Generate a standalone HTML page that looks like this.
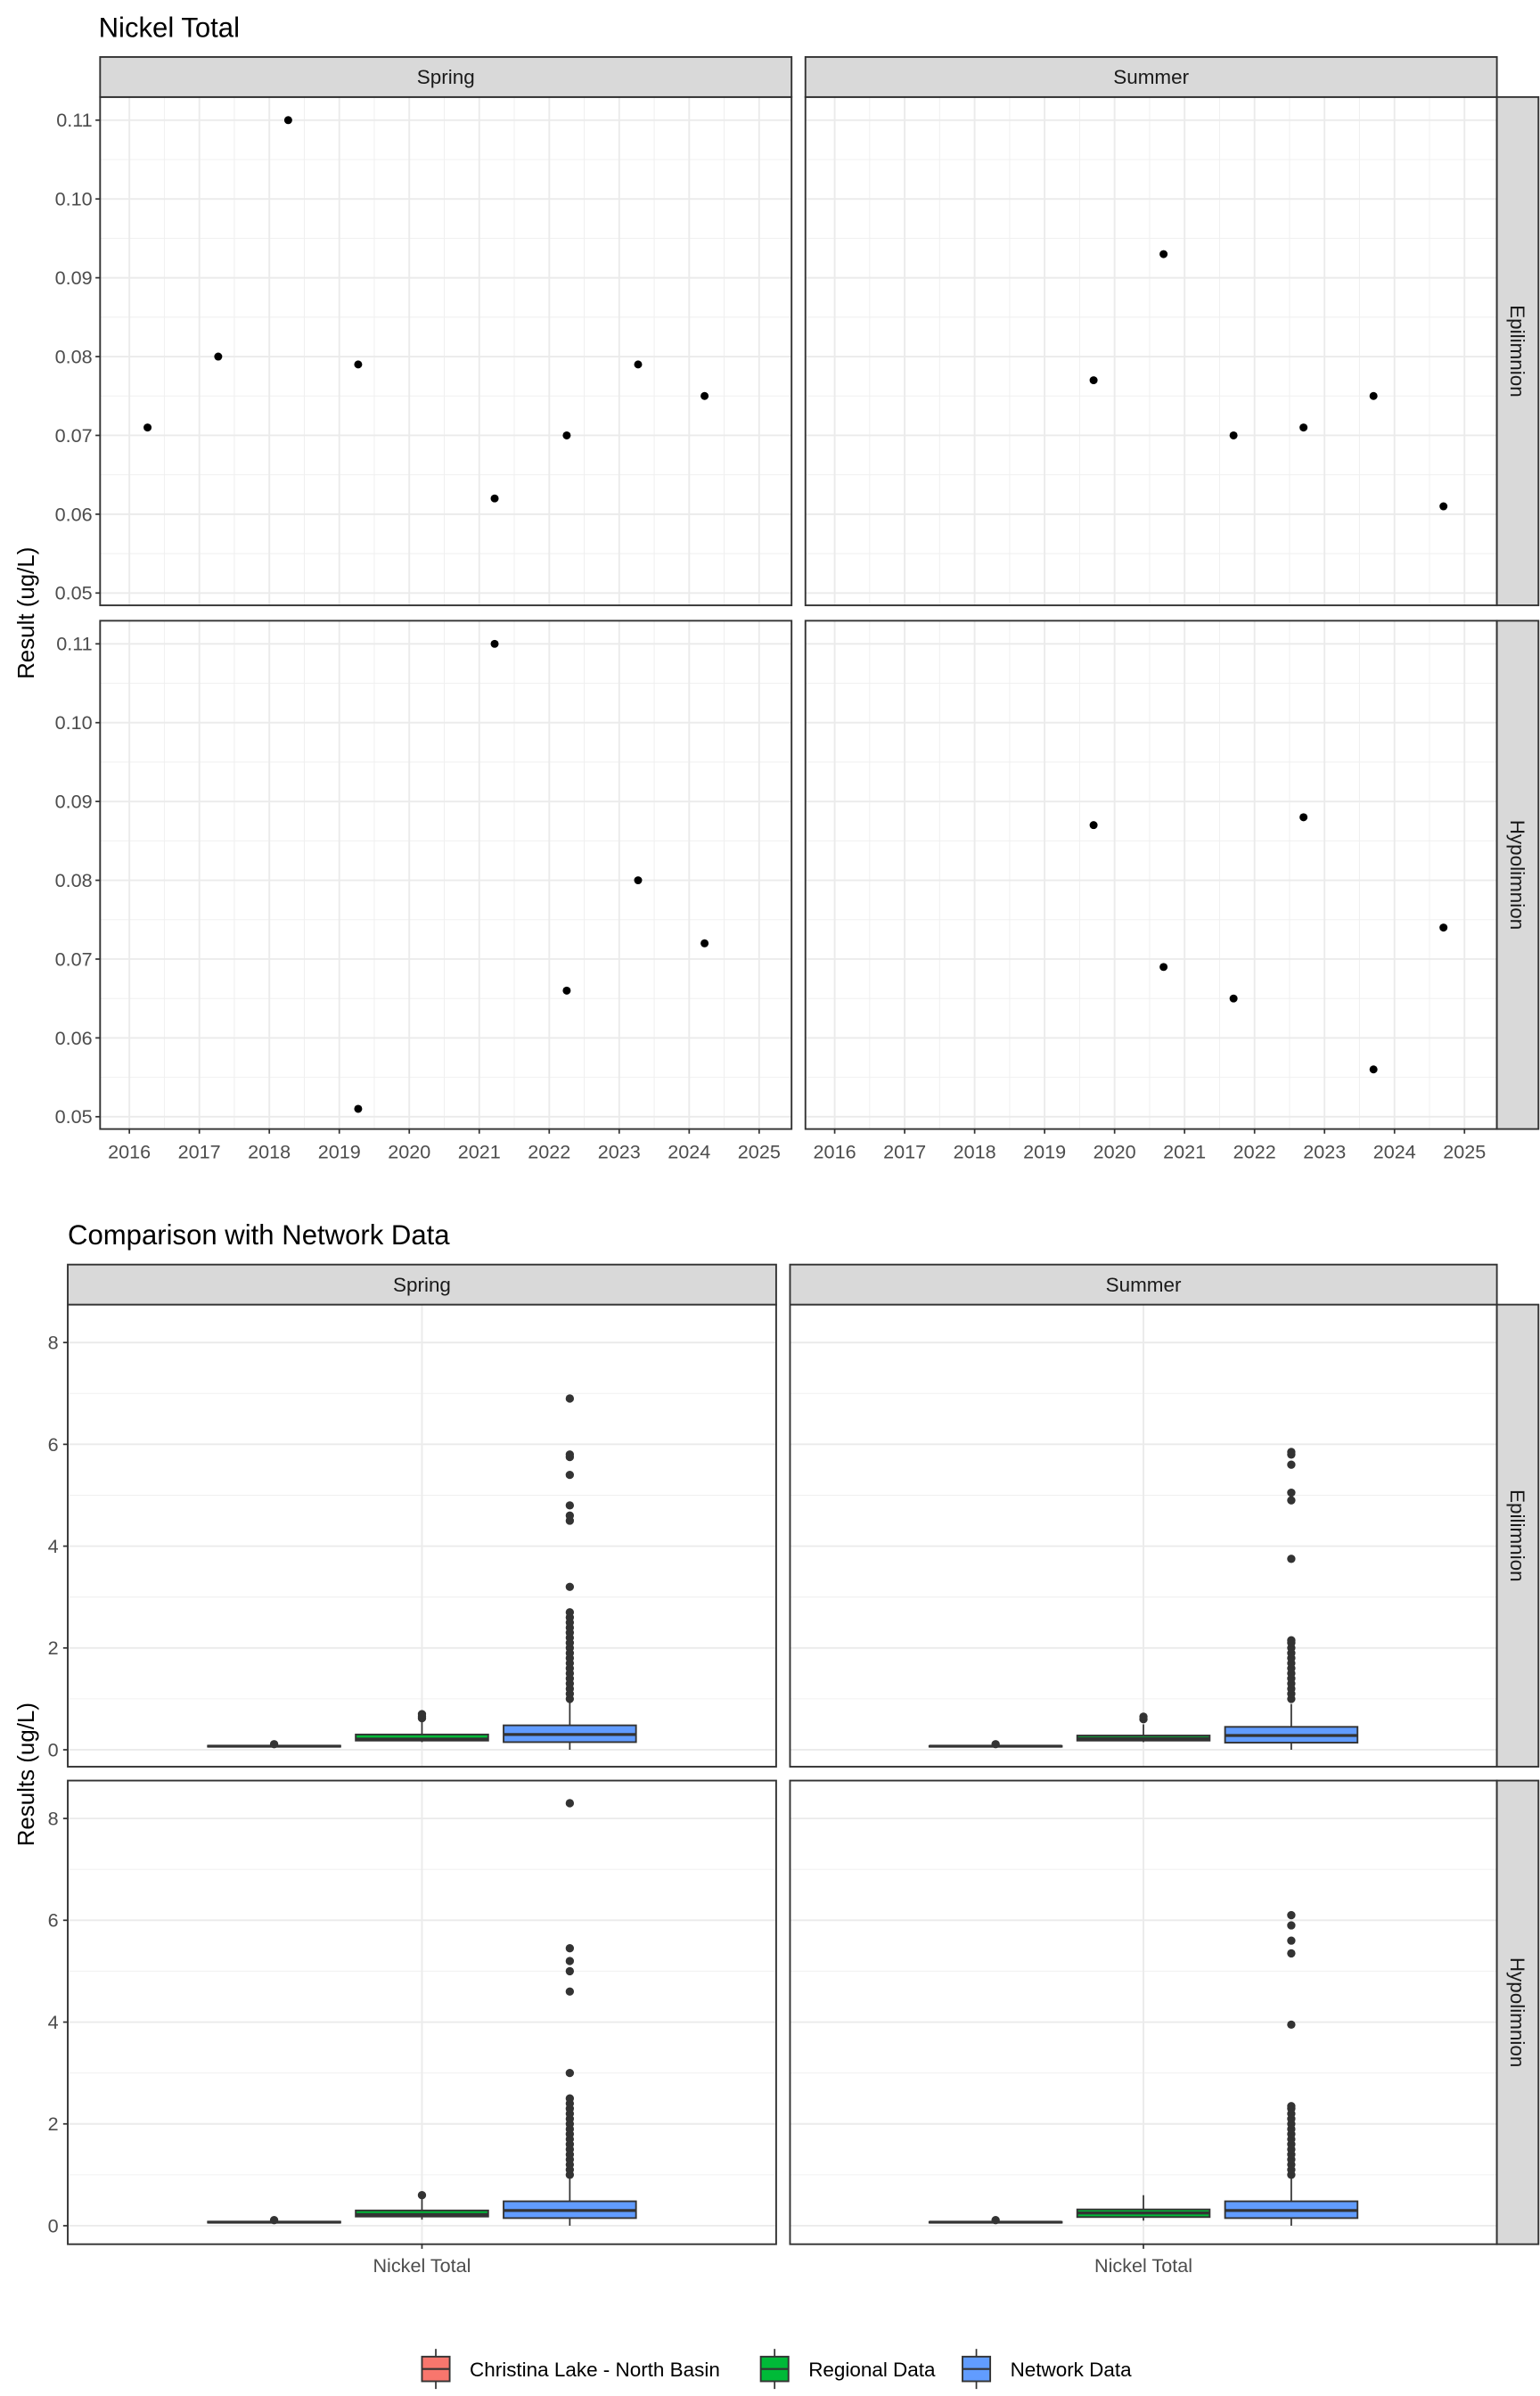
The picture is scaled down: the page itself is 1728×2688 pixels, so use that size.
<!DOCTYPE html>
<html><head><meta charset="utf-8"><style>
html,body{margin:0;padding:0;background:#fff}
svg{display:block;font-family:"Liberation Sans",Arial,sans-serif}
</style></head><body>
<svg id="chart" width="1728" height="2688" viewBox="0 0 1000 1555.55" xmlns="http://www.w3.org/2000/svg">
<rect width="1000" height="1555.55" fill="#fff"/>
<text x="64" y="24" font-size="18">Nickel Total</text>
<text x="44" y="808" font-size="18">Comparison with Network Data</text>
<text transform="translate(22,398) rotate(-90)" text-anchor="middle" font-size="15">Result (ug/L)</text>
<text transform="translate(22,1152) rotate(-90)" text-anchor="middle" font-size="15">Results (ug/L)</text>
<g id="g"></g>
</svg>
<script>
// ---- Top chart data ----
const seasons = ["Spring","Summer"];
const layers = ["Epilimnion","Hypolimnion"];
const yearTicks = [2016,2017,2018,2019,2020,2021,2022,2023,2024,2025];
const valueTicks = [0.05,0.06,0.07,0.08,0.09,0.10,0.11];
const springEpiYears = [2016.26,2017.27,2018.27,2019.27,2021.22,2022.25,2023.27,2024.22];
const springEpiValues = [0.071,0.080,0.110,0.079,0.062,0.070,0.079,0.075];
const summerEpiYears = [2019.7,2020.7,2021.7,2022.7,2023.7,2024.7];
const summerEpiValues = [0.077,0.093,0.070,0.071,0.075,0.061];
const springHypoYears = [2019.27,2021.22,2022.25,2023.27,2024.22];
const springHypoValues = [0.051,0.110,0.066,0.080,0.072];
const summerHypoYears = [2019.7,2020.7,2021.7,2022.7,2023.7,2024.7];
const summerHypoValues = [0.087,0.069,0.065,0.088,0.056,0.074];

// ---- Bottom chart data ----
const groups = ["Christina Lake - North Basin","Regional Data","Network Data"];
const resultTicks = [0,2,4,6,8];
// [lower whisker, q1, median, q3, upper whisker]
const springEpiStats = [[0.05,0.06,0.07,0.08,0.10],[0.15,0.18,0.21,0.30,0.55],[0.0,0.15,0.30,0.48,0.95]];
const summerEpiStats = [[0.05,0.06,0.07,0.075,0.09],[0.15,0.18,0.22,0.28,0.50],[0.0,0.14,0.28,0.45,0.90]];
const springHypoStats = [[0.05,0.06,0.07,0.08,0.10],[0.12,0.18,0.22,0.30,0.55],[0.0,0.15,0.30,0.48,0.98]];
const summerHypoStats = [[0.05,0.06,0.07,0.075,0.09],[0.10,0.17,0.25,0.32,0.60],[0.0,0.15,0.30,0.48,0.98]];
const springEpiOutliers = [[0.11],[0.62,0.66,0.70],[1.0,1.1,1.2,1.3,1.4,1.5,1.6,1.7,1.8,1.9,2.0,2.1,2.2,2.3,2.4,2.5,2.6,2.7,3.2,4.5,4.6,4.8,5.4,5.75,5.8,6.9]];
const summerEpiOutliers = [[0.11],[0.60,0.65],[1.0,1.1,1.2,1.3,1.4,1.5,1.6,1.7,1.8,1.9,2.0,2.1,2.15,3.75,4.9,5.05,5.6,5.8,5.85]];
const springHypoOutliers = [[0.11],[0.60],[1.0,1.1,1.2,1.3,1.4,1.5,1.6,1.7,1.8,1.9,2.0,2.1,2.2,2.3,2.4,2.5,3.0,4.6,5.0,5.2,5.45,8.3]];
const summerHypoOutliers = [[0.11],[],[1.0,1.1,1.2,1.3,1.4,1.5,1.6,1.7,1.8,1.9,2.0,2.1,2.2,2.3,2.35,3.95,5.35,5.6,5.9,6.1]];
const fills = ["#F8766D","#00BA38","#619CFF"];

const NS="http://www.w3.org/2000/svg";
const G=document.getElementById('g');
function el(tag,attrs,parent){const e=document.createElementNS(NS,tag);for(const k in attrs)e.setAttribute(k,attrs[k]);(parent||G).appendChild(e);return e;}

// ---------- TOP ----------
const topCols=[{x0:65,x1:514},{x0:523,x1:972}];
const topRows=[{y0:63,y1:393,top:78},{y0:403,y1:733,top:418}];
const yrPx=45.44;
function xYear(c,y){return topCols[c].x0+19+(y-2016)*yrPx;}
function yVal(r,v){return topRows[r].top+(0.11-v)*5116.7;}
const topSeries=[[[springEpiYears,springEpiValues],[summerEpiYears,summerEpiValues]],[[springHypoYears,springHypoValues],[summerHypoYears,summerHypoValues]]];
for(let r=0;r<2;r++)for(let c=0;c<2;c++){
  const C=topCols[c],R=topRows[r];
  const p=el('g',{});
  
  
  // minor grid
  for(let i=0;i<valueTicks.length-1;i++){const y=yVal(r,valueTicks[i]+0.005);el('line',{x1:C.x0,x2:C.x1,y1:y,y2:y,stroke:'#f0f0f0','stroke-width':0.6},p);}
  for(let i=0;i<yearTicks.length;i++){const x=xYear(c,yearTicks[i]-0.5);if(x>C.x0)el('line',{x1:x,x2:x,y1:R.y0,y2:R.y1,stroke:'#f0f0f0','stroke-width':0.6},p);}
  const xl=xYear(c,2025.5); if(xl<C.x1) el('line',{x1:xl,x2:xl,y1:R.y0,y2:R.y1,stroke:'#f0f0f0','stroke-width':0.6},p);
  // major grid
  valueTicks.forEach(v=>{const y=yVal(r,v);el('line',{x1:C.x0,x2:C.x1,y1:y,y2:y,stroke:'#ebebeb','stroke-width':1.1},p);});
  yearTicks.forEach(v=>{const x=xYear(c,v);el('line',{x1:x,x2:x,y1:R.y0,y2:R.y1,stroke:'#ebebeb','stroke-width':1.1},p);});
  // points
  const [xs,vs]=topSeries[r][c];
  xs.forEach((x,i)=>{const d=el('circle',{cx:xYear(c,x),cy:yVal(r,vs[i]),r:2.6,fill:'#000'},p);
    
    });
  el('rect',{x:C.x0,y:R.y0,width:C.x1-C.x0,height:R.y1-R.y0,fill:'none',stroke:'#333','stroke-width':1.1},p);
  if(c===0){valueTicks.forEach(v=>{const y=yVal(r,v);el('line',{x1:C.x0-3,x2:C.x0,y1:y,y2:y,stroke:'#333'},p);
    const t=el('text',{x:C.x0-5,y:y+4.3,'text-anchor':'end','font-size':12.5,fill:'#4d4d4d'},p);t.textContent=v.toFixed(2);
    });}
  if(r===1){yearTicks.forEach(v=>{const x=xYear(c,v);el('line',{x1:x,x2:x,y1:R.y1,y2:R.y1+3,stroke:'#333'},p);
    const t=el('text',{x:x,y:R.y1+19,'text-anchor':'middle','font-size':12.5,fill:'#4d4d4d'},p);t.textContent=v;
    });}
}
function strips(cols,rows,stripY0,stripY1,rightX){
  cols.forEach((C,c)=>{const s=el('g',{});
    el('rect',{x:C.x0,y:stripY0,width:C.x1-C.x0,height:stripY1-stripY0,fill:'#d9d9d9',stroke:'#333','stroke-width':1.1},s);
    const t=el('text',{x:(C.x0+C.x1)/2,y:(stripY0+stripY1)/2+4.5,'text-anchor':'middle','font-size':13,fill:'#1a1a1a'},s);t.textContent=seasons[c];});
  rows.forEach((R,r)=>{const s=el('g',{});
    el('rect',{x:rightX,y:R.y0,width:27,height:R.y1-R.y0,fill:'#d9d9d9',stroke:'#333','stroke-width':1.1},s);
    const cy=(R.y0+R.y1)/2;const t=el('text',{x:rightX+9,y:cy,'text-anchor':'middle','font-size':13,fill:'#1a1a1a',transform:`rotate(90 ${rightX+9} ${cy})`},s);t.textContent=layers[r];});
}
strips(topCols,topRows,37,63,972);

// ---------- BOTTOM ----------
const botCols=[{x0:44,x1:504},{x0:513,x1:972}];
const botRows=[{y0:847,y1:1147,zero:1136},{y0:1156,y1:1457,zero:1445}];
const kRes=33.05;
function yRes(r,v){return botRows[r].zero-v*kRes;}
function xGroup(c,g){const C=botCols[c];return (C.x0+C.x1)/2+(g-1)*96;}
const stats=[[springEpiStats,summerEpiStats],[springHypoStats,summerHypoStats]];
const outs=[[springEpiOutliers,summerEpiOutliers],[springHypoOutliers,summerHypoOutliers]];
for(let r=0;r<2;r++)for(let c=0;c<2;c++){
  const C=botCols[c],R=botRows[r];
  const p=el('g',{});
  
  
  [1,3,5,7].forEach(v=>{const y=yRes(r,v);el('line',{x1:C.x0,x2:C.x1,y1:y,y2:y,stroke:'#f0f0f0','stroke-width':0.6},p);});
  resultTicks.forEach(v=>{const y=yRes(r,v);el('line',{x1:C.x0,x2:C.x1,y1:y,y2:y,stroke:'#ebebeb','stroke-width':1.1},p);});
  const cx=(C.x0+C.x1)/2;el('line',{x1:cx,x2:cx,y1:R.y0,y2:R.y1,stroke:'#ebebeb','stroke-width':1.1},p);
  for(let g=0;g<3;g++){
    const s=stats[r][c][g],x=xGroup(c,g),hw=43;
    const b=el('g',{},p);
    el('line',{x1:x,x2:x,y1:yRes(r,s[0]),y2:yRes(r,s[1]),stroke:'#333','stroke-width':1},b);
    el('line',{x1:x,x2:x,y1:yRes(r,s[3]),y2:yRes(r,s[4]),stroke:'#333','stroke-width':1},b);
    const yt=yRes(r,s[3]),yb=yRes(r,s[1]);
    el('rect',{x:x-hw,y:yt,width:2*hw,height:Math.max(yb-yt,0.5),fill:fills[g],stroke:'#333','stroke-width':1.1},b);
    el('line',{x1:x-hw,x2:x+hw,y1:yRes(r,s[2]),y2:yRes(r,s[2]),stroke:'#333','stroke-width':1.9},b);
    outs[r][c][g].forEach(v=>{const d=el('circle',{cx:x,cy:yRes(r,v),r:2.7,fill:'#333'},b);
      });
  }
  el('rect',{x:C.x0,y:R.y0,width:C.x1-C.x0,height:R.y1-R.y0,fill:'none',stroke:'#333','stroke-width':1.1},p);
  if(c===0){resultTicks.forEach(v=>{const y=yRes(r,v);el('line',{x1:C.x0-3,x2:C.x0,y1:y,y2:y,stroke:'#333'},p);
    const t=el('text',{x:C.x0-6,y:y+4.3,'text-anchor':'end','font-size':12.5,fill:'#4d4d4d'},p);t.textContent=v;
    });}
  if(r===1){el('line',{x1:cx,x2:cx,y1:R.y1,y2:R.y1+3,stroke:'#333'},p);
    const t=el('text',{x:cx,y:R.y1+18,'text-anchor':'middle','font-size':12.5,fill:'#4d4d4d'},p);t.textContent='Nickel Total';
    }
}
strips(botCols,botRows,821,847,972);

// legend
const legX=[283,503,634];
const lg=el('g',{});
groups.forEach((gname,i)=>{const e=el('g',{},lg);
  
  
  const x=legX[i],y=1538;
  el('line',{x1:x,x2:x,y1:y-13,y2:y+13,stroke:'#333','stroke-width':1},e);
  el('rect',{x:x-9,y:y-8,width:18,height:16,fill:fills[i],stroke:'#333','stroke-width':1.1},e);
  el('line',{x1:x-9,x2:x+9,y1:y,y2:y,stroke:'#333','stroke-width':1.2},e);
  const t=el('text',{x:x+22,y:y+4.8,'font-size':13,fill:'#000'},e);t.textContent=gname;});
</script>
</body></html>
